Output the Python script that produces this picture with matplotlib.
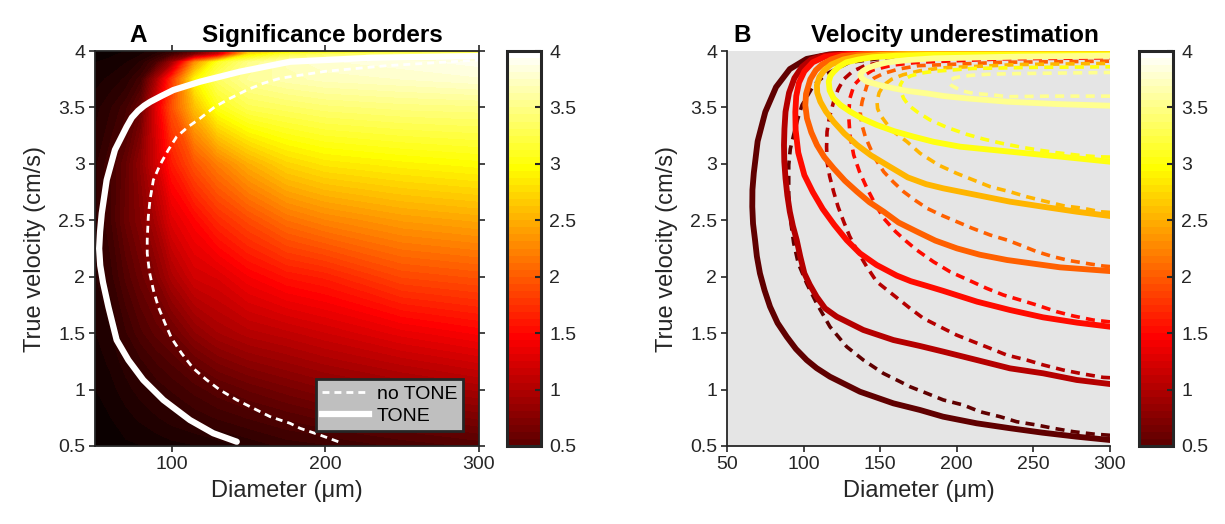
import numpy as np
import matplotlib
matplotlib.use('Agg')
import matplotlib.pyplot as plt
from matplotlib.colors import Normalize
from matplotlib.cm import ScalarMappable
from matplotlib.lines import Line2D

plt.rcParams['font.family'] = ['Liberation Sans', 'DejaVu Sans']
plt.rcParams['lines.scale_dashes'] = False

# ---------------- data ----------------
grid_diam = [50, 60, 70, 80, 90, 100, 115, 130, 150, 175, 200, 250, 300]
grid_vel = [0.5, 0.75, 1.0, 1.25, 1.5, 2.0, 2.5, 3.0, 3.5, 3.75, 3.9, 3.97, 4.0]
field_v050 = [0.02, 0.03, 0.05, 0.06, 0.08, 0.10, 0.12, 0.15, 0.20, 0.27, 0.30, 0.39, 0.45]
field_v075 = [0.04, 0.06, 0.10, 0.14, 0.18, 0.22, 0.27, 0.32, 0.38, 0.45, 0.52, 0.60, 0.70]
field_v100 = [0.06, 0.10, 0.16, 0.22, 0.27, 0.32, 0.40, 0.48, 0.57, 0.66, 0.74, 0.85, 0.95]
field_v125 = [0.09, 0.14, 0.22, 0.30, 0.38, 0.45, 0.58, 0.70, 0.80, 0.88, 0.96, 1.09, 1.20]
field_v150 = [0.12, 0.18, 0.30, 0.42, 0.52, 0.60, 0.80, 0.93, 1.03, 1.10, 1.18, 1.34, 1.45]
field_v200 = [0.18, 0.28, 0.45, 0.60, 0.75, 0.97, 1.20, 1.26, 1.43, 1.57, 1.64, 1.88, 1.95]
field_v250 = [0.23, 0.36, 0.58, 0.75, 0.97, 1.28, 1.48, 1.70, 1.90, 2.12, 2.24, 2.38, 2.45]
field_v300 = [0.23, 0.36, 0.55, 0.83, 1.20, 1.60, 1.95, 2.20, 2.48, 2.72, 2.83, 2.91, 2.97]
field_v350 = [0.16, 0.24, 0.35, 0.60, 1.30, 1.93, 2.58, 3.05, 3.28, 3.35, 3.41, 3.46, 3.48]
field_v375 = [0.10, 0.14, 0.20, 0.35, 0.95, 1.75, 2.92, 3.35, 3.57, 3.66, 3.71, 3.75, 3.80]
field_v390 = [0.06, 0.08, 0.12, 0.20, 0.40, 0.90, 2.30, 3.10, 3.50, 3.70, 3.80, 3.85, 3.90]
field_v397 = [0.04, 0.05, 0.08, 0.12, 0.20, 0.35, 0.70, 1.20, 2.80, 3.20, 3.35, 3.45, 3.55]
field_v400 = [0.03, 0.04, 0.06, 0.10, 0.15, 0.25, 0.50, 1.00, 2.50, 2.70, 2.80, 2.90, 3.00]

# Panel A: significance borders
tone_diam = [142.3, 127, 111.8, 94.5, 81.4, 71.7, 64.1, 58.7, 55.2, 53.4, 52.7, 53.3, 54.4, 57.6,
             63, 70.6, 74, 78, 82, 86, 93, 101, 118.4, 144.4, 177, 230, 300]
tone_vel = [0.538, 0.613, 0.730, 0.908, 1.085, 1.262, 1.439, 1.734, 1.95, 2.1, 2.25, 2.4, 2.562,
            2.857, 3.124, 3.329, 3.41, 3.47, 3.515, 3.55, 3.6, 3.654, 3.728, 3.817, 3.905, 3.94,
            3.955]
notone_diam = [208.4, 196.5, 183.5, 177, 164, 153.1, 142.3, 131.4, 122.7, 114, 106.4, 99.9, 95.6,
               91.2, 88, 85.4, 84, 84, 84.7, 85.8, 88, 92.3, 97.7, 103.2, 110.7, 118.4, 128.1,
               137.9, 148.8, 159.6, 170.4, 200, 240, 300]
notone_vel = [0.538, 0.597, 0.657, 0.701, 0.760, 0.834, 0.908, 0.996, 1.085, 1.188, 1.321, 1.454,
              1.587, 1.734, 1.882, 2.044, 2.207, 2.325, 2.532, 2.68, 2.857, 2.99, 3.123, 3.241,
              3.329, 3.403, 3.506, 3.58, 3.654, 3.714, 3.758, 3.82, 3.87, 3.92]

# Panel B: iso-lines of measured velocity (solid = TONE, dashed = no TONE)
levels = [0.5, 1.0, 1.5, 2.0, 2.5, 3.0, 3.5]
s05_d = [300, 278, 256, 235, 213, 191, 176, 158.6, 136.8, 117.2, 108.5, 102, 95, 89, 83, 78.1, 74.5,
         71.5, 69.5, 68.3, 67, 66.5, 66.6, 67.5, 70, 75, 82, 91, 102, 117, 140, 200, 300]
s05_v = [0.553, 0.583, 0.618, 0.657, 0.701, 0.760, 0.819, 0.878, 0.981, 1.114, 1.19, 1.262, 1.36,
         1.468, 1.59, 1.734, 1.88, 2.03, 2.18, 2.325, 2.47, 2.62, 2.77, 2.92, 3.2, 3.46, 3.68, 3.84,
         3.93, 3.97, 3.985, 3.993, 3.997]
s10_d = [300, 278.3, 256.4, 234.7, 213, 191.2, 176, 158.6, 139, 121.6, 114, 108.5, 104, 100.5, 97.8,
         95.5, 93, 91, 89.4, 88.2, 87.4, 87.2, 87.5, 88.2, 90.5, 94, 99, 105, 112, 120, 135, 150, 300]
s10_v = [1.049, 1.085, 1.144, 1.188, 1.262, 1.336, 1.386, 1.439, 1.528, 1.646, 1.72, 1.823, 1.93, 2.03,
         2.18, 2.325, 2.45, 2.576, 2.72, 2.871, 3.02, 3.167, 3.31, 3.462, 3.63, 3.76, 3.86, 3.925,
         3.955, 3.97, 3.98, 3.985, 3.993]
s15_d = [300, 278.5, 256.3, 234.7, 213.2, 191, 180, 170, 160.8, 147.7, 136.8, 128.1, 120, 112.5, 106,
         100.5, 96.5, 94.8, 94.6, 95.2, 97, 100.5, 106, 114, 130, 170, 300]
s15_v = [1.557, 1.593, 1.640, 1.705, 1.779, 1.875, 1.92, 1.96, 2.01, 2.104, 2.207, 2.325, 2.46, 2.6,
         2.75, 2.9, 3.1, 3.3, 3.46, 3.6, 3.72, 3.82, 3.9, 3.95, 3.975, 3.985, 3.988]
s20_d = [300, 267.4, 232.8, 215, 200.1, 186, 174, 162, 152.3, 143, 134.9, 127, 119.6, 113.5, 108.7,
         105, 102.2, 101.1, 101.6, 104.4, 108, 112, 118, 125, 140, 160, 300]
s20_v = [2.05, 2.083, 2.148, 2.195, 2.251, 2.32, 2.399, 2.48, 2.576, 2.66, 2.753, 2.85, 2.96, 3.06,
         3.167, 3.28, 3.403, 3.52, 3.62, 3.75, 3.83, 3.88, 3.925, 3.955, 3.972, 3.98, 3.985]
s25_d = [300, 278.3, 256.4, 234.7, 213, 191.2, 180, 168, 154.4, 144, 134.9, 126.5, 119.6, 114.5, 110.9,
         108.9, 108.7, 110.3, 113.5, 118, 126, 135, 150, 170, 300]
s25_v = [2.538, 2.576, 2.62, 2.665, 2.724, 2.783, 2.82, 2.88, 2.99, 3.075, 3.167, 3.27, 3.373, 3.465,
         3.551, 3.63, 3.698, 3.77, 3.83, 3.88, 3.925, 3.95, 3.965, 3.975, 3.978]
s30_d = [300, 267, 234.7, 202.3, 185, 171.8, 159, 147.9, 138.5, 130.5, 124.2, 119.6, 117, 116.4, 117.5,
         119.6, 123, 128, 136, 145, 160, 180, 300]
s30_v = [3.019, 3.065, 3.108, 3.152, 3.195, 3.241, 3.29, 3.344, 3.40, 3.462, 3.52, 3.58, 3.65, 3.728,
         3.78, 3.816, 3.86, 3.9, 3.925, 3.945, 3.958, 3.965, 3.97]
s35_d = [300, 265, 232.8, 206.7, 192, 180.6, 168.5, 158.8, 149, 141.4, 138, 137, 138.5, 142, 148,
         155, 168, 185, 240, 300]
s35_v = [3.515, 3.53, 3.551, 3.58, 3.6, 3.624, 3.645, 3.669, 3.70, 3.728, 3.76, 3.787, 3.82, 3.85,
         3.878, 3.9, 3.92, 3.935, 3.95, 3.958]

d05_d = [300, 289.1, 276, 263, 252.2, 239.1, 228.2, 215.1, 204.3, 191.2, 180.4, 169.5, 163, 152, 139,
         128.1, 117.2, 108.5, 102, 96.5, 93.5, 91.5, 90.3, 90.3, 91.3, 93.5, 96, 99, 106.6, 115.3, 130,
         160, 220, 300]
d05_v = [0.595, 0.606, 0.627, 0.657, 0.686, 0.715, 0.760, 0.804, 0.863, 0.908, 0.967, 1.025, 1.070,
         1.144, 1.262, 1.38, 1.557, 1.764, 1.941, 2.119, 2.3, 2.5, 2.724, 2.99, 3.13, 3.255, 3.39,
         3.521, 3.698, 3.8, 3.9, 3.95, 3.97, 3.975]
d10_d = [300, 295.6, 282.6, 269.5, 256.5, 245.6, 232.6, 221.7, 210.8, 199.9, 189, 178.2, 169.5, 158.6,
         147.7, 141.2, 134.7, 130, 126.2, 122.5, 119.6, 117, 115.3, 115, 115.3, 117, 119.6, 122.5,
         126.2, 132, 140, 152, 170, 230, 300]
d10_v = [1.105, 1.108, 1.138, 1.173, 1.218, 1.262, 1.306, 1.366, 1.424, 1.483, 1.557, 1.631, 1.72,
         1.838, 1.956, 2.089, 2.237, 2.36, 2.487, 2.62, 2.753, 2.89, 3.019, 3.15, 3.285, 3.42,
         3.551, 3.66, 3.75, 3.82, 3.87, 3.905, 3.93, 3.955, 3.96]
d15_d = [300, 289.1, 276.1, 265.2, 252.2, 241.3, 230.4, 219.5, 207.5, 195.6, 184.7, 173.8, 166.5, 160,
         152.3, 146.5, 141.4, 136.5, 132.7, 130.3, 129.4, 130.2, 133, 138, 145, 158, 175, 230, 300]
d15_v = [1.60, 1.616, 1.652, 1.690, 1.749, 1.794, 1.838, 1.897, 1.971, 2.044, 2.133, 2.237, 2.32, 2.4,
         2.517, 2.65, 2.783, 2.93, 3.078, 3.25, 3.432, 3.58, 3.7, 3.77, 3.83, 3.875, 3.9, 3.93, 3.94]
d20_d = [300, 295.6, 286.9, 273.9, 263, 252.2, 241.3, 232.8, 221.9, 210, 200.1, 190, 180.6, 172.5,
         165.3, 158.5, 152.3, 147.5, 143.6, 140.3, 138.1, 137, 138.2, 141.4, 146, 152, 162, 175, 230,
         300]
d20_v = [2.09, 2.095, 2.113, 2.142, 2.177, 2.222, 2.281, 2.325, 2.369, 2.43, 2.487, 2.545, 2.606, 2.68,
         2.753, 2.84, 2.93, 3.03, 3.137, 3.24, 3.344, 3.45, 3.551, 3.698, 3.76, 3.8, 3.84, 3.87, 3.9,
         3.91]
d25_d = [300, 293.5, 282.6, 269.5, 258.7, 245.6, 234.7, 221.7, 210.8, 199.9, 188, 176, 167.5, 158.8,
         154, 150.1, 148.3, 147.9, 149.3, 152.3, 157.5, 165, 176, 190, 240, 300]
d25_v = [2.57, 2.576, 2.606, 2.629, 2.665, 2.709, 2.753, 2.798, 2.857, 2.916, 2.99, 3.094, 3.196,
         3.285, 3.36, 3.432, 3.49, 3.551, 3.63, 3.698, 3.75, 3.79, 3.825, 3.85, 3.88, 3.89]
d30_d = [300, 291.3, 278.3, 265.2, 253.2, 242.4, 229.3, 217.3, 206.4, 193.4, 182.5, 174, 168.5, 165.3,
         163.5, 163.1, 165, 170, 177, 185, 210, 250, 300]
d30_v = [3.06, 3.063, 3.078, 3.099, 3.123, 3.147, 3.182, 3.22, 3.262, 3.324, 3.389, 3.462, 3.52, 3.58,
         3.64, 3.70, 3.745, 3.78, 3.805, 3.82, 3.845, 3.855, 3.86]
d35_d = [300, 260, 232.8, 224.1, 211, 204, 200.1, 196.5, 195, 196, 198, 203, 210, 222, 240, 300]
d35_v = [3.60, 3.60, 3.595, 3.61, 3.624, 3.645, 3.669, 3.695, 3.72, 3.742, 3.76, 3.775, 3.785, 3.795,
         3.80, 3.81]

vel_ticks = [0.5, 1, 1.5, 2, 2.5, 3, 3.5, 4]
vel_tick_labels = ['0.5', '1', '1.5', '2', '2.5', '3', '3.5', '4']
diam_ticks_A = [100, 200, 300]
diam_ticks_B = [50, 100, 150, 200, 250, 300]

# ---------------- figure ----------------
W, H = 1225, 524
fig = plt.figure(figsize=(W / 100, H / 100), dpi=100)
fig.patch.set_facecolor('white')

def rect(l, r, t, b):
    return [l / W, (H - b) / H, (r - l) / W, (b - t) / H]

axA = fig.add_axes(rect(95, 479, 51, 446))
caxA = fig.add_axes(rect(507, 541, 51, 446))
axB = fig.add_axes(rect(727, 1110, 51, 446))
caxB = fig.add_axes(rect(1139, 1173, 51, 446))

cmap = plt.get_cmap('hot', 64)
norm = Normalize(0, 4)
spine_col = '#262626'
tick_fs = 14
label_fs = 17
title_fs = 17.5

field = np.array([field_v050, field_v075, field_v100, field_v125, field_v150, field_v200,
                  field_v250, field_v300, field_v350, field_v375, field_v390, field_v397,
                  field_v400])

# Panel A
axA.contourf(grid_diam, grid_vel, field, levels=np.linspace(0, 4, 65), cmap=cmap, norm=norm,
             antialiased=False)
axA.plot(notone_diam, notone_vel, color='white', lw=2.0, dashes=(5, 3.6),
         solid_joinstyle='round')
axA.plot(tone_diam, tone_vel, color='white', lw=4.5, solid_capstyle='round',
         solid_joinstyle='round')

leg_handles = [Line2D([], [], color='white', lw=2.0, dashes=(5, 3.6)),
               Line2D([], [], color='white', lw=4.5)]
leg = axA.legend(leg_handles, ['no TONE', 'TONE'], loc='lower right',
                 bbox_to_anchor=((463 - 95) / 384, (446 - 431) / 395), borderaxespad=0,
                 fontsize=14, frameon=True, fancybox=False, framealpha=1,
                 facecolor='#bfbfbf', edgecolor=spine_col, handlelength=2.4,
                 handletextpad=0.4, labelspacing=0.25, borderpad=0.3)
leg.get_frame().set_linewidth(2)

# Panel B
axB.set_facecolor('#e5e5e5')
solid_sets = [(s05_d, s05_v), (s10_d, s10_v), (s15_d, s15_v), (s20_d, s20_v),
              (s25_d, s25_v), (s30_d, s30_v), (s35_d, s35_v)]
dash_sets = [(d05_d, d05_v), (d10_d, d10_v), (d15_d, d15_v), (d20_d, d20_v),
             (d25_d, d25_v), (d30_d, d30_v), (d35_d, d35_v)]
for lev, (dd, vv) in zip(levels, dash_sets):
    axB.plot(dd, vv, color=cmap(norm(lev)), lw=2.6, dashes=(6.5, 4.5))
for lev, (dd, vv) in zip(levels, solid_sets):
    axB.plot(dd, vv, color=cmap(norm(lev)), lw=4.2, solid_joinstyle='round')

for ax, xt in ((axA, diam_ticks_A), (axB, diam_ticks_B)):
    ax.set_xlim(50, 300)
    ax.set_ylim(0.5, 4)
    ax.set_xticks(xt)
    ax.set_xticklabels([str(t) for t in xt])
    ax.set_yticks(vel_ticks)
    ax.set_yticklabels(vel_tick_labels)
    boxed = ax is axA
    ax.tick_params(direction='out', top=boxed, right=boxed, length=4, width=1.2,
                   colors=spine_col, labelsize=tick_fs, labelcolor='#262626', pad=3)
    for name, s in ax.spines.items():
        s.set_linewidth(1.3)
        s.set_color(spine_col)
        if not boxed and name in ('top', 'right'):
            s.set_visible(False)
    ax.set_xlabel('Diameter (μm)', fontsize=label_fs, color='#262626', labelpad=5)
    ax.set_ylabel('True velocity (cm/s)', fontsize=label_fs, color='#262626', labelpad=9)

axA.text((138 - 95) / 384, 1.022, 'A', transform=axA.transAxes, ha='center', va='baseline',
         fontsize=title_fs, fontweight='bold')
axA.text((322 - 95) / 384, 1.022, 'Significance borders', transform=axA.transAxes, ha='center',
         va='baseline', fontsize=title_fs, fontweight='bold')
axB.text((742 - 727) / 383, 1.022, 'B', transform=axB.transAxes, ha='center', va='baseline',
         fontsize=title_fs, fontweight='bold')
axB.text((955 - 727) / 383, 1.022, 'Velocity underestimation', transform=axB.transAxes,
         ha='center', va='baseline', fontsize=title_fs, fontweight='bold')

# Colorbars
for cax in (caxA, caxB):
    sm = ScalarMappable(norm=norm, cmap=cmap)
    cb = fig.colorbar(sm, cax=cax)
    cb.ax.set_ylim(0.5, 4)
    cb.set_ticks(vel_ticks)
    cb.set_ticklabels(vel_tick_labels)
    cb.outline.set_linewidth(2.2)
    cb.outline.set_edgecolor(spine_col)
    cb.ax.tick_params(direction='in', length=4, width=1.5, colors=spine_col,
                      labelsize=tick_fs, labelcolor='#262626', pad=6)

fig.savefig('out.png', dpi=100)
